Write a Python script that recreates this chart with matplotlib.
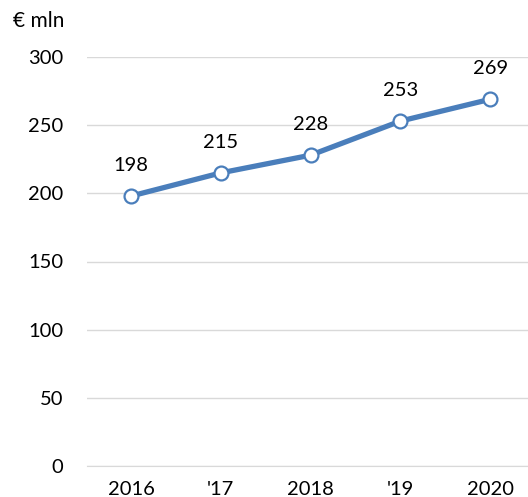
import matplotlib
matplotlib.use("Agg")
import matplotlib.pyplot as plt

years = ["2016", "'17", "2018", "'19", "2020"]
values = [198, 215, 228, 253, 269]
yticks = [0, 50, 100, 150, 200, 250, 300]

plt.rcParams['font.family'] = ['Lato', 'DejaVu Sans']

fig = plt.figure(figsize=(5.28, 4.97), dpi=100)
ax = fig.add_axes([87/528, 1-466/497, 1-87/528, (466-57)/497])
x = list(range(len(years)))
ax.plot(x, values, color='#4a7ebb', lw=3.8, marker='o', ms=10,
        mfc='white', mec='#4a7ebb', mew=1.6, zorder=3, solid_capstyle='round')
for xi, v in zip(x, values):
    ax.annotate(str(v), (xi, v), xytext=(0, 18), textcoords='offset points',
                ha='center', va='baseline', fontsize=14.5, color='black')
ax.set_ylim(0, 300)
ax.set_xlim(-0.49, 4.42)
ax.set_yticks(yticks)
ax.set_xticks(x)
ax.set_xticklabels(years)
ax.grid(axis='y', color='#d9d9d9', lw=1)
ax.set_axisbelow(True)
for s in ['top', 'right', 'left']:
    ax.spines[s].set_visible(False)
ax.spines['bottom'].set_color('#d9d9d9')
ax.tick_params(length=0, labelsize=14.5, colors='black')
ax.tick_params(axis='y', pad=17)
ax.tick_params(axis='x', pad=11)
fig.text(13/528, 1-21/497, "€ mln", fontsize=15, va='center', ha='left')
fig.savefig("out.png", dpi=100)
